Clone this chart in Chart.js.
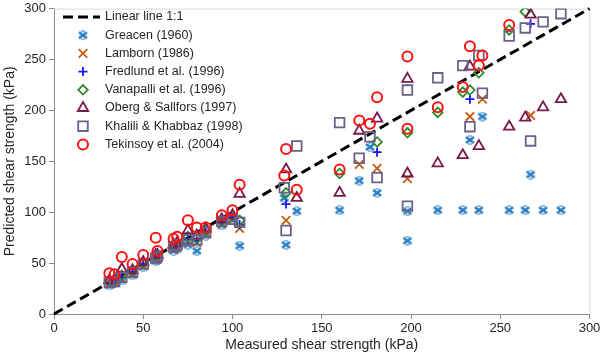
<!DOCTYPE html>
<html><head><meta charset="utf-8">
<script src="https://cdn.jsdelivr.net/npm/chart.js@4/dist/chart.umd.min.js"></script>
<style>html,body{margin:0;padding:0;background:#fff}#wrap{width:600px;height:356px;position:relative}</style>
</head><body><div id="wrap"><canvas id="c"></canvas></div>
<script>
// ---- data (measured kPa, predicted kPa) ----
const xTitle = 'Measured shear strength (kPa)';
const yTitle = 'Predicted shear strength (kPa)';
const lineName = 'Linear line 1:1';
const linePts = [[0, 0], [300, 300]];
const names = ['Greacen (1960)', 'Lamborn (1986)', 'Fredlund et al. (1996)', 'Vanapalli et al. (1996)',
  'Oberg & Sallfors (1997)', 'Khalili & Khabbaz (1998)', 'Tekinsoy et al. (2004)'];

const greacen = [[31,28],[34,30],[38,33],[44,38],[50,46],[57,52],[58,53],[67,62],[69,64],[75,68],[80,62],[85,77],[94,87],[100,92],[104,67],
  [129,114],[130,68],[136,101],[160,102],[171,131],[177,164],[181,119],[198,101],[198,72],[215,102],[229,102],[233,171],[238,102],[240,194],
  [255,102],[264,102],[267,137],[274,102],[284,102]];
const lamborn = [[31,30],[34,32],[38,35],[44,40],[50,48],[57,54],[58,55],[67,64],[69,66],[75,71],[80,70],[85,80],[94,89],[100,94],[104,84],
  [130,92],[171,147],[181,143],[198,133],[233,194],[240,211],[267,195]];
const fredlund = [[31,30],[34,33],[38,36],[44,41],[50,49],[57,55],[58,56],[67,65],[69,67],[75,73],[80,72],[85,81],[94,90],[100,95],[104,88],
  [130,108],[181,159],[233,211],[267,285]];
const vanapalli = [[31,32],[34,33],[38,38],[44,42],[50,50],[57,56],[58,57],[67,66],[69,68],[75,76],[80,74],[85,82],[94,91],[100,96],[104,92],
  [130,119],[160,138],[181,169],[198,178],[215,198],[229,218],[233,220],[238,237],[255,279],[264,297]];
const oberg = [[31,33],[34,34],[38,44],[44,43],[50,51],[57,58],[58,58],[67,68],[69,70],[75,82],[80,77],[85,84],[94,93],[100,97],[104,118],
  [130,142],[136,114],[160,119],[171,180],[181,192],[198,231],[198,138],[215,148],[229,156],[233,243],[238,165],[255,184],[264,193],
  [267,294],[274,203],[284,211]];
const khalili = [[31,31],[34,32],[38,36],[44,41],[50,49],[57,55],[58,57],[67,66],[69,68],[75,73],[80,73],[85,80],[94,91],[100,93],[104,90],
  [129,124],[130,82],[136,165],[160,188],[171,153],[177,174],[181,134],[198,220],[198,106],[215,232],[229,244],[233,184],[238,254],
  [240,217],[255,273],[264,281],[267,170],[274,287],[284,295]];
const tekinsoy = [[31,40],[34,39],[38,56],[44,49],[50,58],[57,75],[58,62],[67,74],[69,76],[75,92],[80,85],[85,85],[94,97],[100,102],[104,127],
  [130,162],[129,136],[136,122],[160,142],[171,190],[177,187],[181,213],[198,253],[198,182],[215,203],[229,223],[233,263],[238,244],
  [240,254],[255,284]];

const xTicks = [0, 50, 100, 150, 200, 250, 300];
const yTicks = [0, 50, 100, 150, 200, 250, 300];

// ---- styles ----
const FONT = "'Liberation Sans', Arial, sans-serif";
const TXT = '#262626';
const AX = '#8c8c8c';

function starImg(color) {
  const c = document.createElement('canvas');
  c.width = 12; c.height = 10;
  const g = c.getContext('2d');
  g.strokeStyle = color; g.lineWidth = 2.6; g.lineCap = 'butt';
  g.beginPath(); g.moveTo(2, 2); g.lineTo(10, 8); g.moveTo(10, 2); g.lineTo(2, 8); g.stroke();
  g.lineWidth = 1;
  g.beginPath(); g.moveTo(4, 1); g.lineTo(8, 1); g.moveTo(4, 9); g.lineTo(8, 9); g.stroke();
  return c;
}

const styles = [
  { color: '#2a7fc4', pointStyle: starImg('#2a7fc4'), radius: 5, bw: 1 },
  { color: '#c55a11', pointStyle: 'crossRot', radius: 6, bw: 1.8 },
  { color: '#1414ff', pointStyle: 'cross', radius: 4.5, bw: 1.8 },
  { color: '#2e8b2e', pointStyle: 'rectRot', radius: 4.8, bw: 1.8 },
  { color: '#7a1a4a', pointStyle: 'triangle', radius: 6, bw: 1.8 },
  { color: '#6b6188', pointStyle: 'rect', radius: 6.8, bw: 1.8 },
  { color: '#ff1010', pointStyle: 'circle', radius: 5, bw: 2 }
];
const seriesData = [greacen, lamborn, fredlund, vanapalli, oberg, khalili, tekinsoy];
const toXY = arr => arr.map(p => ({ x: p[0], y: p[1] }));

const datasets = [{
  type: 'line', label: lineName, data: toXY(linePts), borderColor: '#000', borderWidth: 3,
  borderDash: [10, 5], pointRadius: 0, fill: false, order: 10, clip: false
}];
seriesData.forEach((d, i) => {
  const s = styles[i];
  datasets.push({
    type: 'scatter', label: names[i], data: toXY(d), pointStyle: s.pointStyle,
    pointRadius: s.radius, pointBorderWidth: s.bw, borderColor: s.color,
    backgroundColor: 'rgba(0,0,0,0)', pointBackgroundColor: 'rgba(0,0,0,0)', order: 7 - i
  });
});

// legend drawn inside plot area
const legendPlugin = {
  id: 'insideLegend',
  afterDraw(chart) {
    const ctx = chart.ctx;
    const x0 = 83, y0 = 17, dy = 18.2;
    ctx.save();
    ctx.font = '12.5px ' + FONT;
    ctx.textBaseline = 'middle';
    ctx.textAlign = 'left';
    chart.data.datasets.forEach((ds, i) => {
      const y = y0 + i * dy;
      if (i === 0) {
        ctx.strokeStyle = ds.borderColor; ctx.lineWidth = ds.borderWidth;
        ctx.setLineDash(ds.borderDash);
        ctx.beginPath(); ctx.moveTo(63, y); ctx.lineTo(100, y); ctx.stroke();
        ctx.setLineDash([]);
      } else {
        ctx.strokeStyle = ds.borderColor; ctx.fillStyle = 'rgba(0,0,0,0)';
        ctx.lineWidth = ds.pointBorderWidth;
        Chart.helpers.drawPoint(ctx, { pointStyle: ds.pointStyle, radius: ds.pointRadius, borderWidth: ds.pointBorderWidth, rotation: 0 }, x0, y);
      }
      ctx.fillStyle = TXT;
      ctx.fillText(ds.label, 105, y);
    });
    ctx.restore();
  }
};
const framePlugin = {
  id: 'frame',
  beforeDatasetsDraw(chart) {
    const a = chart.chartArea, ctx = chart.ctx;
    ctx.save(); ctx.strokeStyle = '#d9d9d9'; ctx.lineWidth = 1;
    ctx.beginPath(); ctx.moveTo(a.left, a.top + 0.5); ctx.lineTo(a.right + 0.5, a.top + 0.5); ctx.lineTo(a.right + 0.5, a.bottom);
    ctx.stroke(); ctx.restore();
  }
};

new Chart(document.getElementById('c'), {
  type: 'scatter',
  data: { datasets },
  options: {
    responsive: true, maintainAspectRatio: false, devicePixelRatio: 1, animation: false,
    layout: { padding: { top: 5, right: 10.5, left: 0, bottom: 0 } },
    plugins: { legend: { display: false }, tooltip: { enabled: false } },
    scales: {
      x: {
        type: 'linear', min: 0, max: 300,
        afterBuildTicks: s => { s.ticks = xTicks.map(v => ({ value: v })); },
        ticks: { color: TXT, font: { family: FONT, size: 13 }, padding: 2, maxRotation: 0, autoSkip: false },
        grid: { drawOnChartArea: false, drawTicks: true, tickLength: 5, color: AX },
        border: { color: AX, width: 1 },
        title: { display: true, text: xTitle, color: TXT, font: { family: FONT, size: 14 }, padding: { top: 0, bottom: 2 } },
        afterFit: s => { s.height = 42; s.paddingRight = 0; s.paddingLeft = 0; }
      },
      y: {
        type: 'linear', min: 0, max: 300,
        afterBuildTicks: s => { s.ticks = yTicks.map(v => ({ value: v })); },
        ticks: { color: TXT, font: { family: FONT, size: 13 }, padding: 3, autoSkip: false },
        grid: { drawOnChartArea: false, drawTicks: true, tickLength: 5, color: AX },
        border: { color: AX, width: 1 },
        title: { display: true, text: yTitle, color: TXT, font: { family: FONT, size: 14 }, padding: { top: 2, bottom: 0 } },
        afterFit: s => { s.width = 54; s.paddingTop = 0; s.paddingBottom = 0; }
      }
    }
  },
  plugins: [framePlugin, legendPlugin]
});
</script></body></html>
